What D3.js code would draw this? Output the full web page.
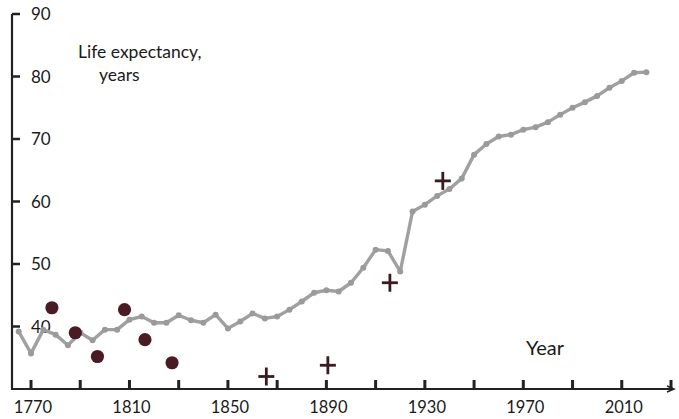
<!DOCTYPE html>
<html>
<head>
<meta charset="utf-8">
<script src="https://cdn.jsdelivr.net/npm/d3@7"></script>
<style>
  html, body { margin: 0; padding: 0; background: #ffffff; }
  svg { display: block; }
  text { font-family: Lato, "Open Sans", sans-serif; fill: #1a1a1a; }
</style>
</head>
<body>
<svg id="chart" width="679" height="419"></svg>
<script>
// ---- data ----
const years = [1765, 1770, 1775, 1780, 1785, 1790, 1795, 1800, 1805, 1810,
  1815, 1820, 1825, 1830, 1835, 1840, 1845, 1850, 1855, 1860,
  1865, 1870, 1875, 1880, 1885, 1890, 1895, 1900, 1905, 1910,
  1915, 1920, 1925, 1930, 1935, 1940, 1945, 1950, 1955, 1960,
  1965, 1970, 1975, 1980, 1985, 1990, 1995, 2000, 2005, 2010,
  2015, 2020];
const lifeExpectancy = [39.2, 35.7, 39.5, 38.7, 37.0, 39.0, 37.8, 39.5, 39.5, 41.1,
  41.6, 40.6, 40.6, 41.8, 41.0, 40.6, 41.9, 39.7, 40.8, 42.1,
  41.3, 41.6, 42.7, 44.0, 45.4, 45.8, 45.6, 47.0, 49.4, 52.3,
  52.1, 48.8, 58.4, 59.5, 60.9, 62.0, 63.7, 67.5, 69.2, 70.4,
  70.7, 71.5, 71.9, 72.7, 73.9, 75.0, 75.9, 76.9, 78.2, 79.3,
  80.6, 80.7];
const dotYears = [1778.5, 1788, 1797, 1808, 1816.3, 1827.3];
const dotValues = [43.0, 39.0, 35.2, 42.7, 37.9, 34.2];
const crossYears = [1865.6, 1890.6, 1915.8, 1937.3];
const crossValues = [32.0, 33.8, 47.0, 63.3];
const xTickValues = [1770, 1790, 1810, 1830, 1850, 1870, 1890, 1910, 1930, 1950, 1970, 1990, 2010, 2030];
const xTickLabels = ["1770", "", "1810", "", "1850", "", "1890", "", "1930", "", "1970", "", "2010", ""];
const yTickValues = [40, 50, 60, 70, 80, 90];
const yTickLabels = ["40", "50", "60", "70", "80", "90"];

// ---- scales ----
const svg = d3.select("#chart");
const x = d3.scaleLinear().domain([1770, 2030]).range([31, 671]);
const y = d3.scaleLinear().domain([30, 90]).range([389, 14]);
const axisX0 = 12;

// y axis line
svg.append("line")
  .attr("x1", axisX0).attr("x2", axisX0)
  .attr("y1", y(90)).attr("y2", y(30) + 1)
  .attr("stroke", "#222").attr("stroke-width", 2.2);
// y ticks (pointing right)
const yt = svg.append("g");
yTickValues.forEach((v, i) => {
  yt.append("line")
    .attr("x1", axisX0).attr("x2", axisX0 + 8)
    .attr("y1", y(v)).attr("y2", y(v))
    .attr("stroke", "#222").attr("stroke-width", 2.5);
  yt.append("text")
    .attr("x", axisX0 + 19).attr("y", y(v) + 6)
    .attr("font-size", 17)
    .text(yTickLabels[i]);
});

// x axis line
svg.append("line")
  .attr("x1", axisX0).attr("x2", x(2030) + 2)
  .attr("y1", y(30)).attr("y2", y(30))
  .attr("stroke", "#222").attr("stroke-width", 2.2);
svg.append("path")
  .attr("d", `M${x(2030) - 4},${y(30) - 3} L${x(2030) + 3},${y(30)} L${x(2030) - 4},${y(30) + 3}`)
  .attr("fill", "none").attr("stroke", "#222").attr("stroke-width", 1.5);
// x ticks (pointing up)
const xt = svg.append("g");
xTickValues.forEach((v, i) => {
  xt.append("line")
    .attr("x1", x(v)).attr("x2", x(v))
    .attr("y1", y(30)).attr("y2", y(30) - 9)
    .attr("stroke", "#222").attr("stroke-width", 3);
  if (xTickLabels[i]) {
    xt.append("text")
      .attr("x", x(v) + 2).attr("y", 413)
      .attr("text-anchor", "middle")
      .attr("font-size", 16.5)
      .text(xTickLabels[i]);
  }
});

// titles
svg.append("text").attr("x", 78).attr("y", 58).attr("font-size", 17.5).text("Life expectancy,");
svg.append("text").attr("x", 99).attr("y", 81).attr("font-size", 17.5).text("years");
svg.append("text").attr("x", 526).attr("y", 355).attr("font-size", 20).text("Year");

// series line
const data = years.map((yr, i) => ({ yr, v: lifeExpectancy[i] }));
const line = d3.line().x(d => x(d.yr)).y(d => y(d.v));
svg.append("path")
  .datum(data)
  .attr("d", line)
  .attr("fill", "none")
  .attr("stroke", "#a0a0a0")
  .attr("stroke-width", 3.4)
  .attr("stroke-linejoin", "round");
svg.append("g").selectAll("circle")
  .data(data).join("circle")
  .attr("cx", d => x(d.yr)).attr("cy", d => y(d.v))
  .attr("r", 3)
  .attr("fill", "#9a9a9a");

// dots
svg.append("g").selectAll("circle")
  .data(dotYears.map((yr, i) => ({ yr, v: dotValues[i] })))
  .join("circle")
  .attr("cx", d => x(d.yr)).attr("cy", d => y(d.v))
  .attr("r", 6.6)
  .attr("fill", "#4a1b24");

// crosses
const cg = svg.append("g");
crossYears.forEach((yr, i) => {
  const cx = x(yr), cy = y(crossValues[i]);
  cg.append("line").attr("x1", cx - 8).attr("x2", cx + 8).attr("y1", cy).attr("y2", cy)
    .attr("stroke", "#3b1a22").attr("stroke-width", 2.8);
  cg.append("line").attr("x1", cx).attr("x2", cx).attr("y1", cy - 9).attr("y2", cy + 9)
    .attr("stroke", "#3b1a22").attr("stroke-width", 2.8);
});
</script>
</body>
</html>
